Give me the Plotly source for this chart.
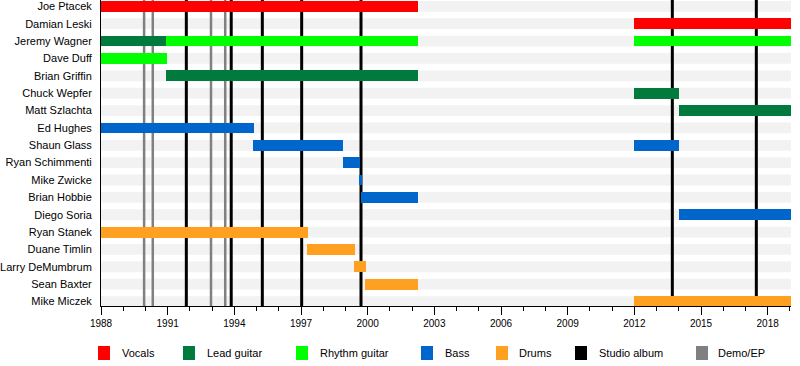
import plotly.graph_objects as go

# ---------------- data ----------------
members = ["Joe Ptacek", "Damian Leski", "Jeremy Wagner", "Dave Duff", "Brian Griffin",
           "Chuck Wepfer", "Matt Szlachta", "Ed Hughes", "Shaun Glass", "Ryan Schimmenti",
           "Mike Zwicke", "Brian Hobbie", "Diego Soria", "Ryan Stanek", "Duane Timlin",
           "Larry DeMumbrum", "Sean Baxter", "Mike Miczek"]

roles = ["Vocals", "Lead guitar", "Rhythm guitar", "Bass", "Drums"]
role_colors = ["#ff0000", "#007a3d", "#00ff00", "#0066cc", "#ffa020"]

END = 2019.05
period_member = ["Joe Ptacek", "Damian Leski", "Jeremy Wagner", "Jeremy Wagner", "Jeremy Wagner",
                 "Dave Duff", "Brian Griffin", "Chuck Wepfer", "Matt Szlachta", "Ed Hughes",
                 "Shaun Glass", "Shaun Glass", "Ryan Schimmenti", "Mike Zwicke", "Brian Hobbie",
                 "Diego Soria", "Ryan Stanek", "Duane Timlin", "Larry DeMumbrum", "Sean Baxter",
                 "Mike Miczek"]
period_role = ["Vocals", "Vocals", "Lead guitar", "Rhythm guitar", "Rhythm guitar",
               "Rhythm guitar", "Lead guitar", "Lead guitar", "Lead guitar", "Bass",
               "Bass", "Bass", "Bass", "Bass", "Bass",
               "Bass", "Drums", "Drums", "Drums", "Drums",
               "Drums"]
period_start = [1988, 2012, 1988, 1990.93, 2012,
                1988, 1990.93, 2012, 2014.0, 1988,
                1994.85, 2012, 1998.88, 1999.6, 1999.7,
                2014.0, 1988, 1997.25, 1999.4, 1999.88,
                2012]
period_end = [2002.25, END, 1990.93, 2002.25, END,
              1990.95, 2002.25, 2014.0, END, 1994.88,
              1998.9, 2014.0, 1999.67, 1999.75, 2002.25,
              END, 1997.32, 1999.43, 1999.93, 2002.25,
              END]

studio_albums = [1991.84, 1993.86, 1995.26, 1997.03, 1999.70, 2013.71, 2017.49]
demo_eps = [1989.94, 1990.33, 1992.95, 1993.59]

x_start = 1988
tick_years = list(range(1988, 2019, 3))

legend_labels = ["Vocals", "Lead guitar", "Rhythm guitar", "Bass", "Drums", "Studio album", "Demo/EP"]
legend_colors = role_colors + ["#000000", "#808080"]

# ---------------- layout helpers ----------------
W, H = 800, 366
PL, PR, PT, PB = 101, 791, 0, 306
BAR_H = 0.62
FONT = "Liberation Sans, Arial, sans-serif"

ypos = {m: -i for i, m in enumerate(members)}
n = len(members)
y_top = 0 + (6.3 - PT) / 17.37
y_bot = -(n - 1) - (PB - 301.6) / 17.37

fig = go.Figure()

shapes = []
# light background stripes
for m in members:
    shapes.append(dict(type="rect", xref="x", yref="y", layer="below",
                       x0=x_start, x1=END, y0=ypos[m] - BAR_H / 2, y1=ypos[m] + BAR_H / 2,
                       fillcolor="#f2f2f2", line=dict(width=0)))
# demo / EP lines
for yr in demo_eps:
    shapes.append(dict(type="line", xref="x", yref="y", layer="below",
                       x0=yr, x1=yr, y0=y_bot, y1=y_top, line=dict(color="#808080", width=2.5)))
# studio album lines
for yr in studio_albums:
    shapes.append(dict(type="line", xref="x", yref="y", layer="below",
                       x0=yr, x1=yr, y0=y_bot, y1=y_top, line=dict(color="#000000", width=3)))

# bars by role
for role, col in zip(roles, role_colors):
    idx = [i for i, r in enumerate(period_role) if r == role]
    fig.add_trace(go.Bar(
        orientation="h",
        y=[ypos[period_member[i]] for i in idx],
        base=[period_start[i] for i in idx],
        x=[period_end[i] - period_start[i] for i in idx],
        width=BAR_H,
        marker=dict(color=col, line=dict(width=0)),
        name=role, showlegend=False, hoverinfo="skip",
    ))

# legend drawn manually
annotations = []
sq_x = [98, 183, 296, 421, 496, 575, 696]
tx_x = [120, 205, 318, 443, 517, 597, 716]
ly = 353
pw, ph = PR - PL, PB - PT
def px2x(px):
    return (px - PL) / pw
def py2y(py):
    return (PB - py) / ph
for lab, col, sx, tx in zip(legend_labels, legend_colors, sq_x, tx_x):
    shapes.append(dict(type="rect", xref="paper", yref="paper",
                       x0=px2x(sx), x1=px2x(sx + 12), y0=py2y(ly + 7), y1=py2y(ly - 7),
                       fillcolor=col, line=dict(width=0)))
    annotations.append(dict(xref="paper", yref="paper", x=px2x(tx), y=py2y(ly),
                            text=lab, showarrow=False, xanchor="left", yanchor="middle",
                            font=dict(family=FONT, size=11, color="#000000")))

fig.update_layout(
    width=W, height=H,
    margin=dict(l=PL, r=W - PR, t=PT, b=H - PB, pad=0, autoexpand=False),
    paper_bgcolor="white", plot_bgcolor="white",
    barmode="overlay", bargap=0,
    shapes=shapes, annotations=annotations,
    font=dict(family=FONT, size=11, color="#000000"),
    xaxis=dict(range=[x_start, END], tickmode="array", tickvals=tick_years,
               ticktext=[str(y) for y in tick_years], automargin=False,
               ticks="outside", ticklen=8, tickcolor="#000000", tickwidth=1,
               minor=dict(dtick=1, tick0=1988, ticks="outside", ticklen=4,
                          tickcolor="#000000", showgrid=False),
               showgrid=False, zeroline=False, showline=True, linecolor="#000000", linewidth=1,
               tickfont=dict(family=FONT, size=10), fixedrange=True),
    yaxis=dict(range=[y_bot, y_top], tickmode="array", tickvals=[ypos[m] for m in members],
               ticktext=members, ticks="", showgrid=False, zeroline=False, automargin=False,
               showline=True, linecolor="#000000", linewidth=1, ticklabelstandoff=6,
               tickfont=dict(family=FONT, size=11), fixedrange=True),
)

fig.write_html("out.html", config={"displayModeBar": False},
               post_script="document.body.style.margin='0';document.body.style.overflow='hidden';")
